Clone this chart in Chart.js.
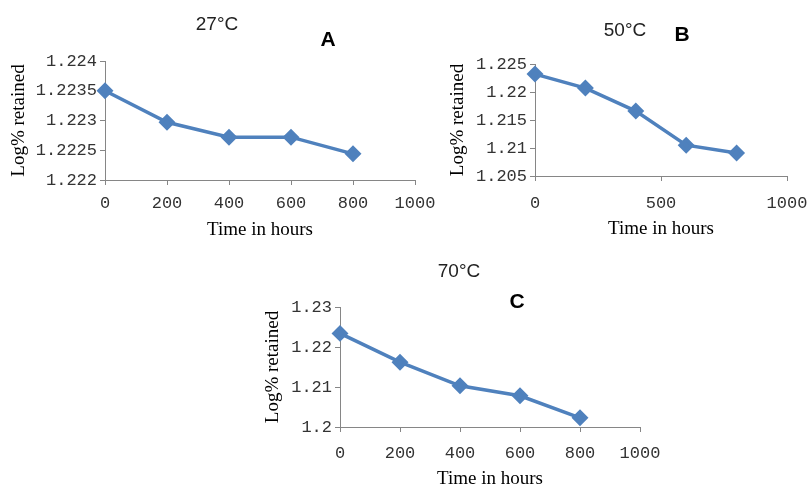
<!DOCTYPE html>
<html>
<head>
<meta charset="utf-8">
<script src="https://cdn.jsdelivr.net/npm/chart.js@4.4.1/dist/chart.umd.min.js"></script>
<style>
  html, body { margin: 0; padding: 0; background: #fff; }
  body { width: 809px; height: 490px; position: relative; overflow: hidden; }
  .box { position: absolute; }
</style>
</head>
<body>
<div class="box" style="left:0;top:0;width:440px;height:245px"><canvas id="chartA"></canvas></div>
<div class="box" style="left:440px;top:0;width:369px;height:245px"><canvas id="chartB"></canvas></div>
<div class="box" style="left:240px;top:250px;width:420px;height:240px"><canvas id="chartC"></canvas></div>
<script>
// data
const hours = [0, 200, 400, 600, 800];
const valuesA = [1.2235, 1.22297, 1.22272, 1.22272, 1.22244];   // 27°C
const valuesB = [1.2232, 1.2207, 1.2166, 1.2105, 1.2091];       // 50°C
const valuesC = [1.2234, 1.2162, 1.2103, 1.2078, 1.2023];       // 70°C

const xTicksA = [0, 200, 400, 600, 800, 1000];
const xTicksB = [0, 500, 1000];
const xTicksC = [0, 200, 400, 600, 800, 1000];
const yTicksA = [1.222, 1.2225, 1.223, 1.2235, 1.224];
const yTicksB = [1.205, 1.21, 1.215, 1.22, 1.225];
const yTicksC = [1.2, 1.21, 1.22, 1.23];

const titles = ['27°C', '50°C', '70°C'];
const letters = ['A', 'B', 'C'];
const xTitle = 'Time in hours';
const yTitle = 'Log% retained';

const blue = '#4F81BD';
const axisGrey = '#868686';
const tickFont = { family: 'Liberation Mono', size: 17 };
const titleFont = { family: 'Liberation Serif', size: 19 };

// draws the temperature heading and the panel letter
const panelText = {
    id: 'panelText',
    afterDraw(chart, args, o) {
        const ctx = chart.ctx;
        ctx.save();
        ctx.textAlign = 'center';
        ctx.textBaseline = 'middle';
        ctx.fillStyle = '#222';
        ctx.font = '19px "Liberation Sans"';
        ctx.fillText(o.title, o.tx, o.ty);
        ctx.fillStyle = '#000';
        ctx.font = 'bold 21px "Liberation Sans"';
        ctx.fillText(o.letter, o.lx, o.ly);
        ctx.restore();
    }
};

function makeChart(id, values, xTicks, yTicks, s) {
    const points = hours.map((h, i) => ({ x: h, y: values[i] }));
    return new Chart(document.getElementById(id), {
        type: 'line',
        data: {
            datasets: [{
                data: points,
                borderColor: blue,
                backgroundColor: blue,
                borderWidth: 3.5,
                tension: 0,
                pointStyle: 'rectRot',
                pointRadius: 6,
                pointBorderColor: blue,
                pointBackgroundColor: blue,
                clip: false
            }]
        },
        options: {
            responsive: true,
            maintainAspectRatio: false,
            animation: false,
            layout: { padding: { left: 0, top: s.top, right: s.right, bottom: 0 } },
            plugins: {
                legend: { display: false },
                tooltip: { enabled: false },
                panelText: { title: s.title, tx: s.tx, ty: s.ty, letter: s.letter, lx: s.lx, ly: s.ly }
            },
            scales: {
                x: {
                    type: 'linear',
                    min: xTicks[0],
                    max: xTicks[xTicks.length - 1],
                    afterBuildTicks: sc => { sc.ticks = xTicks.map(v => ({ value: v })); },
                    afterFit: sc => { sc.height = s.xH; sc.paddingLeft = 0; sc.paddingRight = 0; },
                    grid: { display: true, drawOnChartArea: false, drawTicks: true, tickLength: 5, color: axisGrey },
                    border: { color: axisGrey, width: 1 },
                    ticks: { font: tickFont, color: '#333', padding: s.xPad, maxRotation: 0, callback: v => String(v) },
                    title: { display: true, text: xTitle, font: titleFont, color: '#000', padding: { top: 0, bottom: s.xTitlePad } }
                },
                y: {
                    min: yTicks[0],
                    max: yTicks[yTicks.length - 1],
                    afterBuildTicks: sc => { sc.ticks = yTicks.map(v => ({ value: v })); },
                    afterFit: sc => { sc.width = s.yW; sc.paddingTop = 0; sc.paddingBottom = 0; },
                    grid: { display: true, drawOnChartArea: false, drawTicks: true, tickLength: 5, color: axisGrey },
                    border: { color: axisGrey, width: 1 },
                    ticks: { font: tickFont, color: '#333', padding: 3, callback: v => String(+v.toFixed(4)) },
                    title: { display: true, text: yTitle, font: titleFont, color: '#000', padding: { top: s.yTitlePad, bottom: 0 } }
                }
            }
        },
        plugins: [panelText]
    });
}

makeChart('chartA', valuesA, xTicksA, yTicksA, {
    top: 61, right: 25, yW: 105, xH: 65, xPad: 8, xTitlePad: 4, yTitlePad: 8,
    title: titles[0], tx: 217, ty: 25, letter: letters[0], lx: 328, ly: 40
});
makeChart('chartB', valuesB, xTicksB, yTicksB, {
    top: 64, right: 22, yW: 95, xH: 69, xPad: 12, xTitlePad: 5, yTitlePad: 7,
    title: titles[1], tx: 185, ty: 31, letter: letters[1], lx: 242, ly: 35
});
makeChart('chartC', valuesC, xTicksC, yTicksC, {
    top: 57, right: 20, yW: 100, xH: 63, xPad: 11, xTitlePad: 0, yTitlePad: 22,
    title: titles[2], tx: 219, ty: 22, letter: letters[2], lx: 277, ly: 52
});
</script>
</body>
</html>
